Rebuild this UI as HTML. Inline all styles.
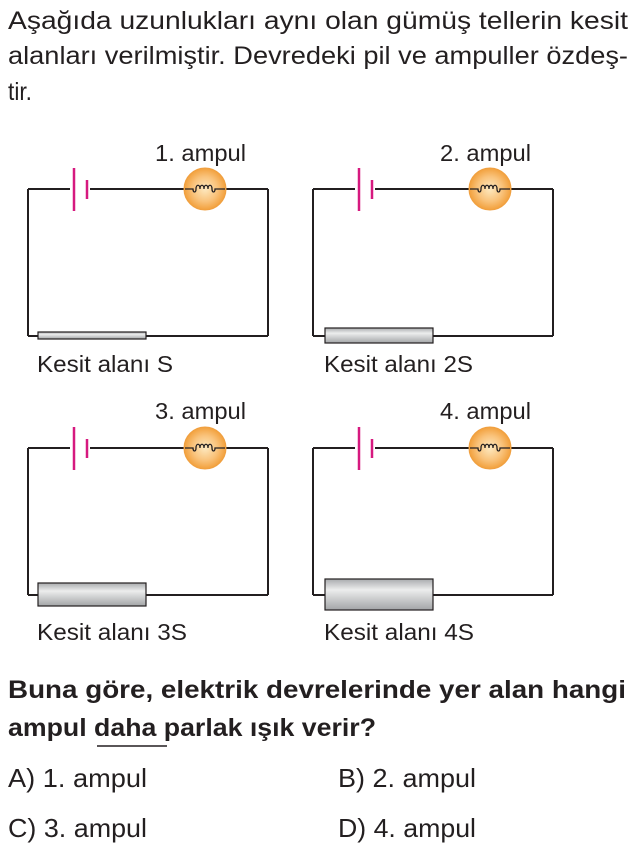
<!DOCTYPE html>
<html><head><meta charset="utf-8"><style>
html,body{margin:0;padding:0;background:#fff;}
svg{display:block;}
text{font-family:"Liberation Sans",sans-serif;fill:#231f20;}
</style></head><body>
<svg width="634" height="849" viewBox="0 0 634 849" xmlns="http://www.w3.org/2000/svg">
<defs>
<radialGradient id="bulb" cx="50%" cy="50%" r="50%">
<stop offset="0" stop-color="#fde9c0"/><stop offset="0.6" stop-color="#f9c27a"/><stop offset="1" stop-color="#f2a03c"/>
</radialGradient>
<linearGradient id="rod" x1="0" y1="0" x2="0" y2="1">
<stop offset="0" stop-color="#a9abad"/><stop offset="0.35" stop-color="#eceded"/><stop offset="1" stop-color="#a3a5a7"/>
</linearGradient>
<g id="top">
<line x1="28" y1="0" x2="268" y2="0" stroke="#231f20" stroke-width="2"/>
<line x1="28" y1="0" x2="28" y2="147" stroke="#231f20" stroke-width="2"/>
<line x1="268" y1="0" x2="268" y2="147" stroke="#231f20" stroke-width="2"/>
<line x1="28" y1="147" x2="268" y2="147" stroke="#231f20" stroke-width="2"/>
<rect x="70" y="-4" width="20" height="8" fill="#fff"/>
<line x1="74" y1="-21" x2="74" y2="22" stroke="#d6197f" stroke-width="2.5"/>
<line x1="87" y1="-9" x2="87" y2="10" stroke="#d6197f" stroke-width="2.5"/>
<circle cx="205" cy="0" r="21" fill="url(#bulb)" stroke="#f0a040" stroke-width="1"/>
<path d="M185 0 H193 c0 4 3 4 3 0 c0 -5 4 -5 4 0 c0 -5 4 -5 4 0 c0 -5 4 -5 4 0 c0 -5 4 -5 4 0 c0 4 3 4 3 0 H225" fill="none" stroke="#231f20" stroke-width="1.3"/>
</g>
</defs>
<g font-size="25">
<text x="8" y="29" textLength="620" lengthAdjust="spacingAndGlyphs">Aşağıda  uzunlukları  aynı  olan  gümüş  tellerin  kesit</text>
<text x="8" y="64" textLength="620" lengthAdjust="spacingAndGlyphs">alanları verilmiştir. Devredeki pil ve ampuller özdeş-</text>
<text x="8" y="100" textLength="24" lengthAdjust="spacingAndGlyphs">tir.</text>
</g>
<use href="#top" x="0" y="189"/>
<use href="#top" x="285" y="189"/>
<use href="#top" x="0" y="448"/>
<use href="#top" x="285" y="448"/>
<rect x="38" y="332" width="108" height="7" fill="url(#rod)" stroke="#231f20" stroke-width="1.2"/>
<rect x="325" y="328" width="108" height="15" fill="url(#rod)" stroke="#231f20" stroke-width="1.2"/>
<rect x="38" y="583" width="108" height="23" fill="url(#rod)" stroke="#231f20" stroke-width="1.2"/>
<rect x="325" y="579" width="108" height="31" fill="url(#rod)" stroke="#231f20" stroke-width="1.2"/>
<g font-size="23">
<text x="155" y="161" textLength="91" lengthAdjust="spacingAndGlyphs">1. ampul</text>
<text x="440" y="161" textLength="91" lengthAdjust="spacingAndGlyphs">2. ampul</text>
<text x="155" y="419" textLength="91" lengthAdjust="spacingAndGlyphs">3. ampul</text>
<text x="440" y="419" textLength="91" lengthAdjust="spacingAndGlyphs">4. ampul</text>
<text x="37" y="372" textLength="136" lengthAdjust="spacingAndGlyphs">Kesit alanı S</text>
<text x="324" y="372" textLength="149" lengthAdjust="spacingAndGlyphs">Kesit alanı 2S</text>
<text x="37" y="640" textLength="150" lengthAdjust="spacingAndGlyphs">Kesit alanı 3S</text>
<text x="324" y="640" textLength="150" lengthAdjust="spacingAndGlyphs">Kesit alanı 4S</text>
</g>
<g font-size="25" font-weight="bold">
<text x="8" y="698" textLength="618" lengthAdjust="spacingAndGlyphs">Buna  göre,  elektrik  devrelerinde  yer  alan  hangi</text>
<text x="8" y="736" textLength="368" lengthAdjust="spacingAndGlyphs">ampul daha parlak ışık verir?</text>
</g>
<line x1="97" y1="746" x2="167" y2="746" stroke="#231f20" stroke-width="1.5"/>
<g font-size="26">
<text x="8" y="787" textLength="139" lengthAdjust="spacingAndGlyphs">A) 1. ampul</text>
<text x="338" y="787" textLength="138" lengthAdjust="spacingAndGlyphs">B) 2. ampul</text>
<text x="8" y="837" textLength="139" lengthAdjust="spacingAndGlyphs">C) 3. ampul</text>
<text x="338" y="837" textLength="138" lengthAdjust="spacingAndGlyphs">D) 4. ampul</text>
</g>
</svg>
</body></html>
